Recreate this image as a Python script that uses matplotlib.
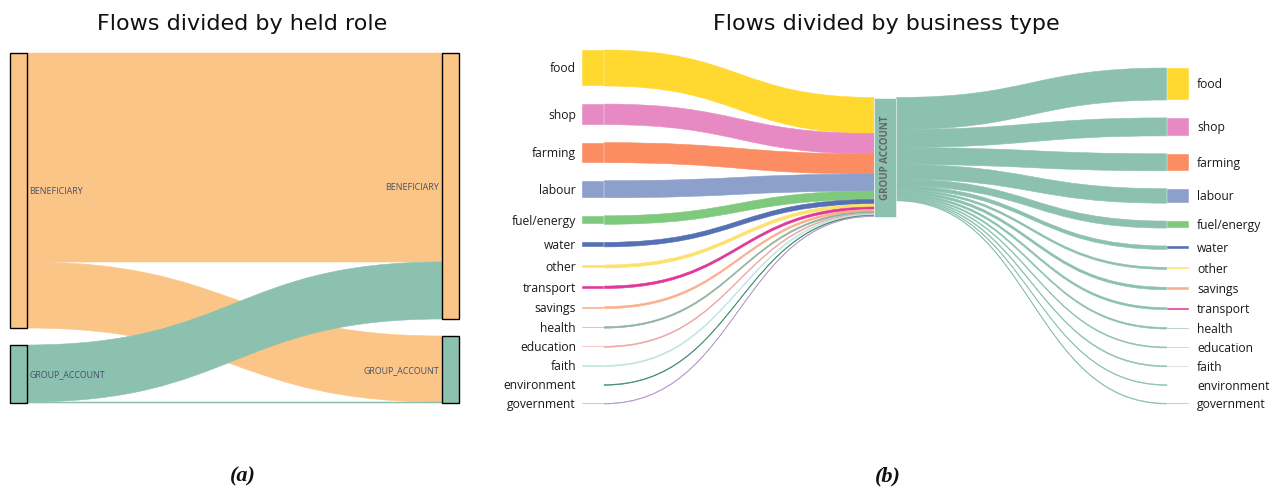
import matplotlib
matplotlib.use("Agg")
import matplotlib.pyplot as plt
from matplotlib.path import Path
from matplotlib.patches import PathPatch, Rectangle

# ---- data: panel (a), flows between held roles (source row -> target column)
roles = ["BENEFICIARY", "GROUP_ACCOUNT"]
role_flows = [[209, 66],
              [57, 1]]
role_colors = ["#FCC588", "#8BC1AE"]

# ---- data: panel (b), business types into / out of the group account
in_types = ["food", "shop", "farming", "labour", "fuel/energy", "water", "other",
            "transport", "savings", "health", "education", "faith", "environment",
            "government"]
in_values = [36, 20.5, 20, 17, 8.5, 4.5, 3, 2.5, 2, 1.5, 1, 1.2, 0.7, 0.6]

out_types = ["food", "shop", "farming", "labour", "fuel/energy", "water", "other",
             "savings", "transport", "health", "education", "faith", "environment",
             "government"]
out_values = [32, 18, 17, 14.5, 7, 3.5, 2, 2.5, 2, 1.5, 1, 1, 0.7, 0.7]

center_name = "GROUP ACCOUNT"

type_colors = {"food": "#FFD92F", "shop": "#E78AC3", "farming": "#FC8D62",
               "labour": "#8DA0CB", "fuel/energy": "#7FC97F", "water": "#5571B3",
               "other": "#FDE16A", "transport": "#E0389A", "savings": "#FBB08C",
               "health": "#8FB3A0", "education": "#EEA3A3", "faith": "#BDE5E3",
               "environment": "#3E8F6E", "government": "#B89CCC"}
out_color_override = {"faith": "#C8CCCA", "environment": "#86BFAC"}
group_color = "#8BC1AE"


# helpers
def stack_column(sizes, top, bottom):
    n = len(sizes)
    gap = (bottom - top - sum(sizes)) / (n - 1) if n > 1 else 0
    tops = []
    y = top
    for s in sizes:
        tops.append(y)
        y += s + gap
    return tops


def link(ax, x0, y0, x1, y1, w, color, z=1):
    xm = (x0 + x1) / 2
    verts = [(x0, y0), (xm, y0), (xm, y1), (x1, y1),
             (x1, y1 + w), (xm, y1 + w), (xm, y0 + w), (x0, y0 + w), (x0, y0)]
    codes = [Path.MOVETO, Path.CURVE4, Path.CURVE4, Path.CURVE4,
             Path.LINETO, Path.CURVE4, Path.CURVE4, Path.CURVE4, Path.CLOSEPOLY]
    ax.add_patch(PathPatch(Path(verts, codes), facecolor=color, edgecolor=color,
                           lw=0.4, zorder=z))


fig = plt.figure(figsize=(12.75, 4.89), dpi=100)
ax = fig.add_axes([0, 0, 1, 1])
ax.set_xlim(0, 1275)
ax.set_ylim(489, 0)
ax.axis("off")

# ---------------- panel (a)
a_top, a_bot = 54, 404
a_xl, a_xr, a_w = 10, 442, 16.5
n = len(roles)
left_sizes = [sum(role_flows[i]) for i in range(n)]
right_sizes = [sum(role_flows[i][j] for i in range(n)) for j in range(n)]
scale_a = (a_bot - a_top - 17 * (n - 1)) / max(sum(left_sizes), sum(right_sizes))
ls = [s * scale_a for s in left_sizes]
rs = [s * scale_a for s in right_sizes]
lt = stack_column(ls, a_top, a_bot)
rt = stack_column(rs, a_top, a_bot)

r_off = list(rt)
for i in range(n):
    y0 = lt[i]
    for j in range(n):
        w = role_flows[i][j] * scale_a
        link(ax, a_xl + a_w, y0, a_xr, r_off[j], w, role_colors[i], z=1 + i)
        y0 += w
        r_off[j] += w

for i in range(n):
    ax.add_patch(Rectangle((a_xl, lt[i]), a_w, ls[i], facecolor=role_colors[i],
                           edgecolor="black", lw=1, zorder=5))
    ax.text(a_xl + a_w + 3, lt[i] + ls[i] / 2, roles[i], ha="left", va="center",
            fontsize=6.4, family="Open Sans", color="#46536A", zorder=6)
    ax.add_patch(Rectangle((a_xr, rt[i]), a_w, rs[i], facecolor=role_colors[i],
                           edgecolor="black", lw=1, zorder=5))
    ax.text(a_xr - 3, rt[i] + rs[i] / 2, roles[i], ha="right", va="center",
            fontsize=6.4, family="Open Sans", color="#46536A", zorder=6)

ax.text(242, 30, "Flows divided by held role", ha="center", va="baseline",
        fontsize=16, color="#111111")

# ---------------- panel (b)
scale_b = 1.0
b_w = 22
x_left, x_mid, x_right = 582, 874, 1167
il = [v * scale_b for v in in_values]
ol = [v * scale_b for v in out_values]
in_tops = stack_column(il, 51, 405)
out_tops = stack_column(ol, 69, 405)
mid_h = max(sum(il), sum(ol))
mid_top = 158 - mid_h / 2

y_in = mid_top
for k, t in enumerate(in_types):
    link(ax, x_left + b_w, in_tops[k], x_mid, y_in, il[k], type_colors[t], z=2)
    y_in += il[k]
y_out = mid_top
for k, t in enumerate(out_types):
    link(ax, x_mid + b_w, y_out, x_right, out_tops[k], ol[k], group_color, z=2)
    y_out += ol[k]

for k, t in enumerate(in_types):
    ax.add_patch(Rectangle((x_left, in_tops[k]), b_w, il[k], facecolor=type_colors[t],
                           edgecolor="white", lw=0.3, zorder=5))
    ax.text(x_left - 6, in_tops[k] + il[k] / 2, t, ha="right", va="center",
            fontsize=8.7, family="Open Sans", color="#1A1A1A")
for k, t in enumerate(out_types):
    c = out_color_override.get(t, type_colors[t])
    ax.add_patch(Rectangle((x_right, out_tops[k]), b_w, ol[k], facecolor=c,
                           edgecolor="white", lw=0.3, zorder=5))
    ax.text(x_right + b_w + 8, out_tops[k] + ol[k] / 2, t, ha="left", va="center",
            fontsize=8.7, family="Open Sans", color="#1A1A1A")

ax.add_patch(Rectangle((x_mid, mid_top), b_w, mid_h, facecolor=group_color,
                       edgecolor="white", lw=0.4, zorder=5))
ax.text(x_mid + b_w / 2, mid_top + mid_h / 2, center_name, rotation=90,
        ha="center", va="center", fontsize=7, fontweight="bold",
        family="Open Sans", color="#666666", zorder=6)

ax.text(886, 30, "Flows divided by business type", ha="center", va="baseline",
        fontsize=16, color="#111111")

# ---------------- sub-captions
for x, lab in [(243, "(a)"), (888, "(b)")]:
    ax.text(x, 476, lab, ha="center", va="center", fontsize=16,
            family="Liberation Serif", style="italic", fontweight="bold",
            color="#111111")

fig.savefig("out.png", dpi=100)
